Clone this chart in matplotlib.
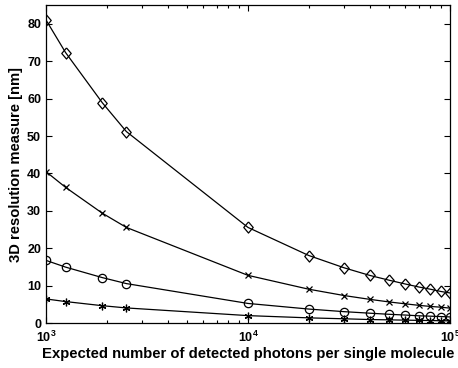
import matplotlib
matplotlib.use("Agg")
import matplotlib.pyplot as plt
from matplotlib.ticker import FixedLocator, LogLocator, NullFormatter

photons = [1000, 1250, 1900, 2500, 10000, 20000, 30000, 40000, 50000,
           60000, 70000, 80000, 90000, 100000]
res_diamond = [81.0, 72.3, 58.9, 51.2, 25.6, 18.1, 14.8, 12.8, 11.5,
               10.5, 9.7, 9.1, 8.5, 8.1]
res_cross = [40.5, 36.3, 29.4, 25.6, 12.8, 9.1, 7.4, 6.4, 5.7,
             5.2, 4.8, 4.5, 4.3, 4.05]
res_circle = [16.8, 15.0, 12.2, 10.6, 5.3, 3.8, 3.1, 2.7, 2.4,
              2.2, 2.0, 1.9, 1.8, 1.7]
res_star = [6.5, 5.8, 4.7, 4.1, 2.05, 1.45, 1.2, 1.0, 0.92,
            0.84, 0.78, 0.73, 0.68, 0.65]
xticks = [1e3, 1e4, 1e5]
xtick_labels = [r"$\mathbf{10^{3}}$", r"$\mathbf{10^{4}}$", r"$\mathbf{10^{5}}$"]
yticks = [0, 10, 20, 30, 40, 50, 60, 70, 80]

plt.rcParams["font.family"] = ["Liberation Sans", "DejaVu Sans"]
plt.rcParams["font.weight"] = "bold"
plt.rcParams["mathtext.fontset"] = "custom"
plt.rcParams["mathtext.bf"] = "Liberation Sans:bold"
plt.rcParams["mathtext.rm"] = "Liberation Sans:bold"

# matlab-like diamond, a bit taller than wide
diamond = [(0, 1), (0.85, 0), (0, -1), (-0.85, 0), (0, 1)]

fig = plt.figure(figsize=(4.58, 3.68), dpi=100)
ax = fig.add_axes([0.1004, 0.1215, 0.882, 0.865])

kw = dict(color="black", lw=0.9, markerfacecolor="none", markeredgecolor="black",
          markeredgewidth=0.9)
ax.plot(photons, res_diamond, marker=diamond, markersize=8, **kw)
ax.plot(photons, res_cross, marker="x", markersize=4.5, **kw)
ax.plot(photons, res_circle, marker="o", markersize=6, **kw)
ax.plot(photons, res_star, marker=(6, 2, 0), markersize=5.5, **kw)

ax.set_xscale("log")
ax.set_xlim(1e3, 1e5)
ax.set_ylim(0, 85)
ax.xaxis.set_major_locator(FixedLocator(xticks))
ax.set_xticklabels(xtick_labels)
ax.xaxis.set_minor_locator(LogLocator(base=10, subs=range(2, 10)))
ax.xaxis.set_minor_formatter(NullFormatter())
ax.set_yticks(yticks)
ax.tick_params(which="both", direction="in", top=True, right=True,
               labelsize=9, width=0.8)
ax.tick_params(which="major", length=4)
ax.tick_params(which="minor", length=2)
ax.tick_params(axis="x", pad=5)
for s in ax.spines.values():
    s.set_linewidth(0.9)

ax.set_xlabel("Expected number of detected photons per single molecule",
              fontsize=10.7, fontweight="bold", labelpad=1)
ax.set_ylabel("3D resolution measure [nm]", fontsize=10.6, fontweight="bold",
              labelpad=3)

fig.savefig("out.png", dpi=100)
